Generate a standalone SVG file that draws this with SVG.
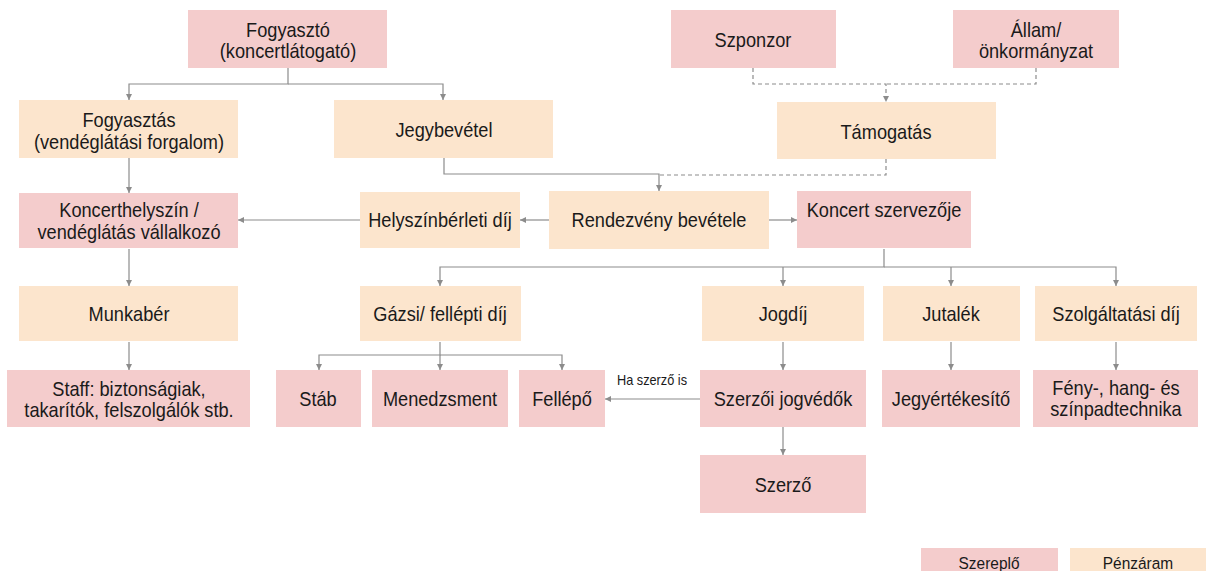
<svg xmlns="http://www.w3.org/2000/svg" width="1206" height="571" viewBox="0 0 1206 571">
<style>
.a{fill:#f4cccc}
.m{fill:#fce5cd}
text{font-family:"Liberation Sans",Arial,sans-serif;font-size:20px;fill:#1a1a1a;text-anchor:middle}
.c path{fill:none;stroke:#8c8c8c;stroke-width:1.2}
.c .d{stroke-dasharray:4 3}
text.s{font-size:14px}
text.l{font-size:17px}
</style>
<defs>
<marker id="ar" markerUnits="userSpaceOnUse" markerWidth="7" markerHeight="7" refX="6" refY="3" orient="auto">
<path d="M0,0 L6,3 L0,6 z" fill="#8c8c8c"/>
</marker>
</defs>
<rect width="1206" height="571" fill="#fff"/>
<g class="c">
<path d="M288,68 V84 H129 V100" marker-end="url(#ar)"/>
<path d="M288,84 H443 V100" marker-end="url(#ar)"/>
<path class="d" d="M753,68 V84 H886 V102" marker-end="url(#ar)"/>
<path class="d" d="M1036,68 V84 H886"/>
<path d="M444,158 V174 H659 V191" marker-end="url(#ar)"/>
<path class="d" d="M886,159 V175 H659"/>
<path d="M129,158 V193" marker-end="url(#ar)"/>
<path d="M549,220 H520" marker-end="url(#ar)"/>
<path d="M360,220 H238" marker-end="url(#ar)"/>
<path d="M769,220 H797" marker-end="url(#ar)"/>
<path d="M884,249 V267 H440 V286" marker-end="url(#ar)"/>
<path d="M884,267 H1116 V286" marker-end="url(#ar)"/>
<path d="M783,267 V286" marker-end="url(#ar)"/>
<path d="M951,267 V286" marker-end="url(#ar)"/>
<path d="M129,249 V286" marker-end="url(#ar)"/>
<path d="M129,342 V370" marker-end="url(#ar)"/>
<path d="M440,342 V355 H319 V370" marker-end="url(#ar)"/>
<path d="M440,355 H562 V370" marker-end="url(#ar)"/>
<path d="M440,355 V370" marker-end="url(#ar)"/>
<path d="M783,342 V370" marker-end="url(#ar)"/>
<path d="M951,342 V370" marker-end="url(#ar)"/>
<path d="M1116,342 V370" marker-end="url(#ar)"/>
<path d="M700,399 H605" marker-end="url(#ar)"/>
<path d="M783,427 V455" marker-end="url(#ar)"/>
<text class="s" transform="matrix(0.91 0 0 1 652 385)">Ha szerző is</text>
</g>
<g id="fogyaszto"><rect class="a" x="188" y="10" width="199" height="58"/><text transform="matrix(0.91 0 0 1 288 36.5)">Fogyasztó</text><text transform="matrix(0.91 0 0 1 288 57.5)">(koncertlátogató)</text></g>
<g id="szponzor"><rect class="a" x="671" y="10" width="165" height="58"/><text transform="matrix(0.91 0 0 1 753 47)">Szponzor</text></g>
<g id="allam"><rect class="a" x="953" y="10" width="166" height="58"/><text transform="matrix(0.91 0 0 1 1036 36.5)">Állam/</text><text transform="matrix(0.91 0 0 1 1036 58)">önkormányzat</text></g>
<g id="fogyasztas"><rect class="m" x="19" y="100" width="219" height="58"/><text transform="matrix(0.91 0 0 1 129 127)">Fogyasztás</text><text transform="matrix(0.91 0 0 1 129 148.5)">(vendéglátási forgalom)</text></g>
<g id="jegybevetel"><rect class="m" x="334" y="100" width="219" height="58"/><text transform="matrix(0.91 0 0 1 444 137)">Jegybevétel</text></g>
<g id="tamogatas"><rect class="m" x="777" y="102" width="219" height="57"/><text transform="matrix(0.91 0 0 1 886 138.5)">Támogatás</text></g>
<g id="koncerthelyszin"><rect class="a" x="19" y="193" width="219" height="55"/><text transform="matrix(0.91 0 0 1 129 217)">Koncerthelyszín /</text><text transform="matrix(0.91 0 0 1 129 238.5)">vendéglátás vállalkozó</text></g>
<g id="helyszinberleti"><rect class="m" x="360" y="192" width="160" height="56"/><text transform="matrix(0.91 0 0 1 440 227)">Helyszínbérleti díj</text></g>
<g id="rendezveny"><rect class="m" x="549" y="191" width="220" height="58"/><text transform="matrix(0.91 0 0 1 659 227)">Rendezvény bevétele</text></g>
<g id="szervezo"><rect class="a" x="797" y="191" width="174" height="57"/><text transform="matrix(0.91 0 0 1 884 217)">Koncert szervezője</text></g>
<g id="munkaber"><rect class="m" x="19" y="286" width="219" height="55"/><text transform="matrix(0.91 0 0 1 129 320.5)">Munkabér</text></g>
<g id="gazsi"><rect class="m" x="360" y="286" width="161" height="55"/><text transform="matrix(0.91 0 0 1 440 320.5)">Gázsi/ fellépti díj</text></g>
<g id="jogdij"><rect class="m" x="702" y="286" width="162" height="55"/><text transform="matrix(0.91 0 0 1 783 320.5)">Jogdíj</text></g>
<g id="jutalek"><rect class="m" x="883" y="286" width="137" height="55"/><text transform="matrix(0.91 0 0 1 951 320.5)">Jutalék</text></g>
<g id="szolgaltatasi"><rect class="m" x="1035" y="286" width="162" height="55"/><text transform="matrix(0.91 0 0 1 1116 320.5)">Szolgáltatási díj</text></g>
<g id="staff"><rect class="a" x="7" y="370" width="243" height="57"/><text transform="matrix(0.91 0 0 1 129 395.5)">Staff: biztonságiak,</text><text transform="matrix(0.91 0 0 1 129 416.5)">takarítók, felszolgálók stb.</text></g>
<g id="stab"><rect class="a" x="276" y="370" width="85" height="57"/><text transform="matrix(0.91 0 0 1 318 405.5)">Stáb</text></g>
<g id="menedzsment"><rect class="a" x="372" y="370" width="136" height="57"/><text transform="matrix(0.91 0 0 1 440 405.5)">Menedzsment</text></g>
<g id="fellepo"><rect class="a" x="519" y="370" width="86" height="57"/><text transform="matrix(0.91 0 0 1 562 405.5)">Fellépő</text></g>
<g id="jogvedok"><rect class="a" x="700" y="370" width="166" height="57"/><text transform="matrix(0.91 0 0 1 783 405.5)">Szerzői jogvédők</text></g>
<g id="jegyertekesito"><rect class="a" x="882" y="370" width="138" height="57"/><text transform="matrix(0.91 0 0 1 951 405.5)">Jegyértékesítő</text></g>
<g id="feny"><rect class="a" x="1033" y="370" width="165" height="57"/><text transform="matrix(0.91 0 0 1 1116 395)">Fény-, hang- és</text><text transform="matrix(0.91 0 0 1 1116 416)">színpadtechnika</text></g>
<g id="szerzo"><rect class="a" x="700" y="455" width="166" height="58"/><text transform="matrix(0.91 0 0 1 783 491.5)">Szerző</text></g>
<g id="legend-szereplo"><rect class="a" x="921" y="548" width="137" height="30"/><text class="l" transform="matrix(0.91 0 0 1 989 569)">Szereplő</text></g>
<g id="legend-penzaram"><rect class="m" x="1070" y="548" width="137" height="30"/><text class="l" transform="matrix(0.91 0 0 1 1138 569)">Pénzáram</text></g>
</svg>
